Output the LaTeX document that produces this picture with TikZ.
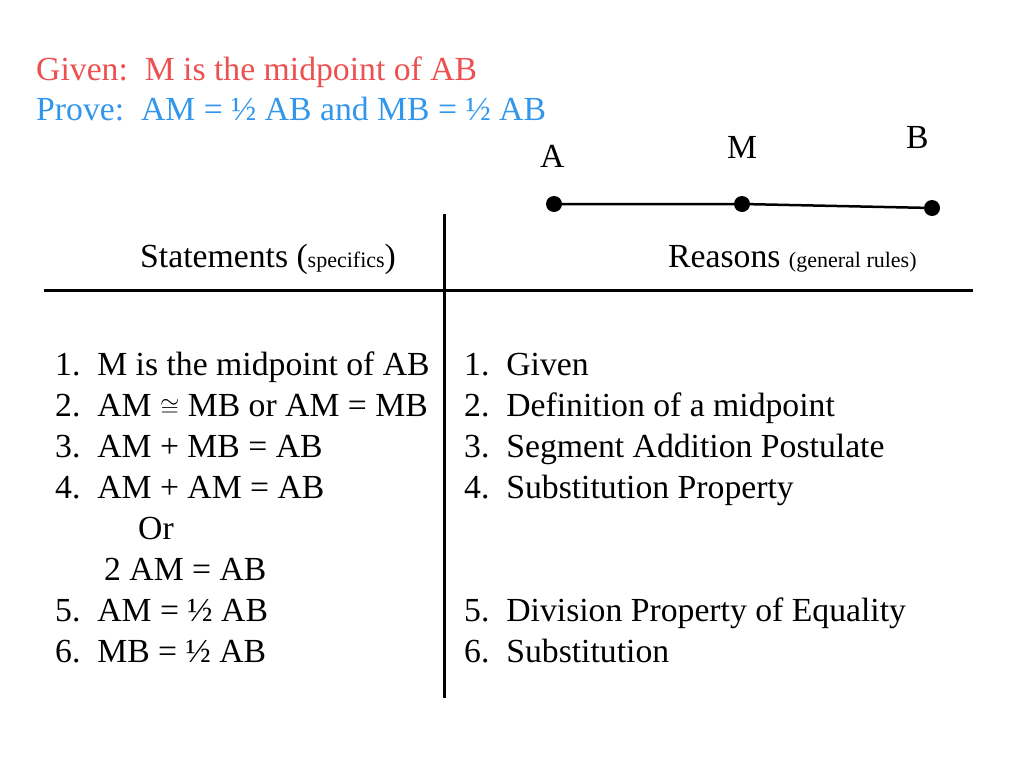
\documentclass[tikz,border=0pt]{standalone}
\usepackage{fontspec}
\setmainfont{Liberation Serif}
\definecolor{givenred}{RGB}{236,80,80}
\definecolor{proveblue}{RGB}{50,150,235}
\begin{document}
\begin{tikzpicture}[x=1pt,y=-1pt,
  txt/.style={anchor=base west,inner sep=0pt,font=\fontsize{33.7}{35}\selectfont},
  dot/.style={circle,fill=black,inner sep=0pt,minimum size=16pt},
  rule/.style={line width=3pt}]
\useasboundingbox (0,0) rectangle (1024,768);
\node[txt,text=givenred] (given) at (36,80) {Given:\ \ M is the midpoint of AB};
\node[txt,text=proveblue] (prove) at (36,120) {Prove:\ \ AM = ½ AB and MB = ½ AB};
\node[txt] (la) at (540,167) {A};
\node[txt] (lm) at (727,158) {M};
\node[txt] (lb) at (906,148) {B};
\node[dot] (A) at (554,204) {};
\node[dot] (M) at (742,204) {};
\node[dot] (B) at (932,208) {};
\draw[line width=2.5pt] (A) -- (M) -- (B);
\coordinate (h1) at (44,290); \coordinate (h2) at (973,290);
\coordinate (v1) at (444,214); \coordinate (v2) at (444,698);
\draw[rule] (h1) -- (h2);
\draw[rule] (v1) -- (v2);
\node[txt] (st) at (140,267) {Statements ({\fontsize{22}{24}\selectfont specifics})};
\node[txt] (re) at (668,267) {Reasons {\fontsize{22}{24}\selectfont (general rules)}};
\node[txt] (s1) at (55,375) {1.\ \ M is the midpoint of AB};
\node[txt] (s2) at (55,416) {2.\ \ AM $\cong$ MB or AM = MB};
\node[txt] (s3) at (55,457) {3.\ \ AM + MB = AB};
\node[txt] (s4) at (55,498) {4.\ \ AM + AM = AB};
\node[txt] (s4a) at (138,539) {Or};
\node[txt] (s4b) at (104,580) {2 AM = AB};
\node[txt] (s5) at (55,621) {5.\ \ AM = ½ AB};
\node[txt] (s6) at (55,662) {6.\ \ MB = ½ AB};
\node[txt] (r1) at (464,375) {1.\ \ Given};
\node[txt] (r2) at (464,416) {2.\ \ Definition of a midpoint};
\node[txt] (r3) at (464,457) {3.\ \ Segment Addition Postulate};
\node[txt] (r4) at (464,498) {4.\ \ Substitution Property};
\node[txt] (r5) at (464,621) {5.\ \ Division Property of Equality};
\node[txt] (r6) at (464,662) {6.\ \ Substitution};
\end{tikzpicture}
\end{document}
